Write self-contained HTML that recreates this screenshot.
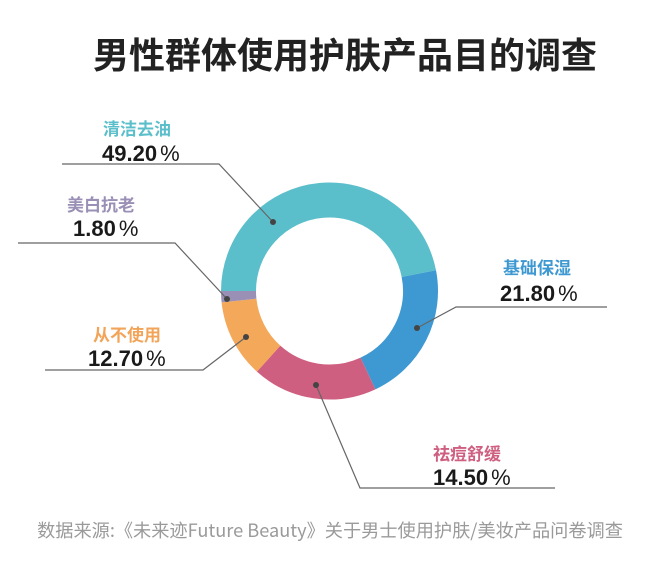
<!DOCTYPE html>
<html><head><meta charset="utf-8"><style>
html,body{margin:0;padding:0;background:#fff;}
svg text{font-family:"Liberation Sans","Noto Sans CJK SC",sans-serif;}
</style></head><body>
<svg width="660" height="575" viewBox="0 0 660 575" xmlns="http://www.w3.org/2000/svg">
<text x="345" y="68" text-anchor="middle" font-size="36" font-weight="bold" fill="#222" style="font-family:'Noto Sans CJK SC',sans-serif">男性群体使用护肤产品目的调查</text>
<g id="ring"></g>
<g stroke="#666" stroke-width="1.2" fill="none">
<polyline points="62,164 219,164 273,222"/>
<polyline points="18,243 175,243 227,299"/>
<polyline points="45,370 203,370 246,337"/>
<polyline points="607,307 456,307 417,328"/>
<polyline points="555,488 360,488 316,385"/>
</g>
<g fill="#444">
<circle cx="273" cy="222" r="3"/><circle cx="227" cy="299" r="3"/><circle cx="246" cy="337" r="3"/><circle cx="417" cy="328" r="3"/><circle cx="316" cy="385" r="3"/>
</g>
<g font-weight="bold" style="font-family:'Noto Sans CJK SC',sans-serif">
<text x="103" y="135" font-size="17" fill="#5bbfcb">清洁去油</text>
<text x="102" y="161" font-size="22" fill="#1a1a1a">49.20<tspan font-weight="normal" dx="3">%</tspan></text>
<text x="67" y="211" font-size="17" fill="#9a8fb5">美白抗老</text>
<text x="73" y="236" font-size="22" fill="#1a1a1a">1.80<tspan font-weight="normal" dx="3">%</tspan></text>
<text x="93" y="341" font-size="17" fill="#f2a55a">从不使用</text>
<text x="88" y="366" font-size="22" fill="#1a1a1a">12.70<tspan font-weight="normal" dx="3">%</tspan></text>
<text x="503" y="274" font-size="17" fill="#3e98d1">基础保湿</text>
<text x="500" y="301" font-size="22" fill="#1a1a1a">21.80<tspan font-weight="normal" dx="3">%</tspan></text>
<text x="433" y="460" font-size="17" fill="#cf5f80">祛痘舒缓</text>
<text x="433" y="485" font-size="22" fill="#1a1a1a">14.50<tspan font-weight="normal" dx="3">%</tspan></text>
</g>
<text x="330" y="537" text-anchor="middle" font-size="18.2" fill="#9a9a9a" style="font-family:'Noto Sans CJK SC',sans-serif">数据来源:《未来迹Future Beauty》关于男士使用护肤/美妆产品问卷调查</text>
<script>
(function(){
var cx=329.5,cy=291,r=91,segs=[[180,349,'#5bbfcb'],[349,425,'#3e98d1'],[425,492,'#cf5f80'],[492,534,'#f4a85a'],[534,540,'#9a8fb5']];
var g=document.getElementById('ring'),ns='http://www.w3.org/2000/svg';
segs.forEach(function(s){
var a0=s[0]*Math.PI/180,a1=s[1]*Math.PI/180;
var p=document.createElementNS(ns,'path');
var x0=cx+r*Math.cos(a0),y0=cy+r*Math.sin(a0),x1=cx+r*Math.cos(a1),y1=cy+r*Math.sin(a1);
p.setAttribute('d','M'+x0+' '+y0+' A'+r+' '+r+' 0 '+((s[1]-s[0])>180?1:0)+' 1 '+x1+' '+y1);
p.setAttribute('fill','none');p.setAttribute('stroke',s[2]);p.setAttribute('stroke-width','35');
g.appendChild(p);});
})();
</script>
</svg>
</body></html>
